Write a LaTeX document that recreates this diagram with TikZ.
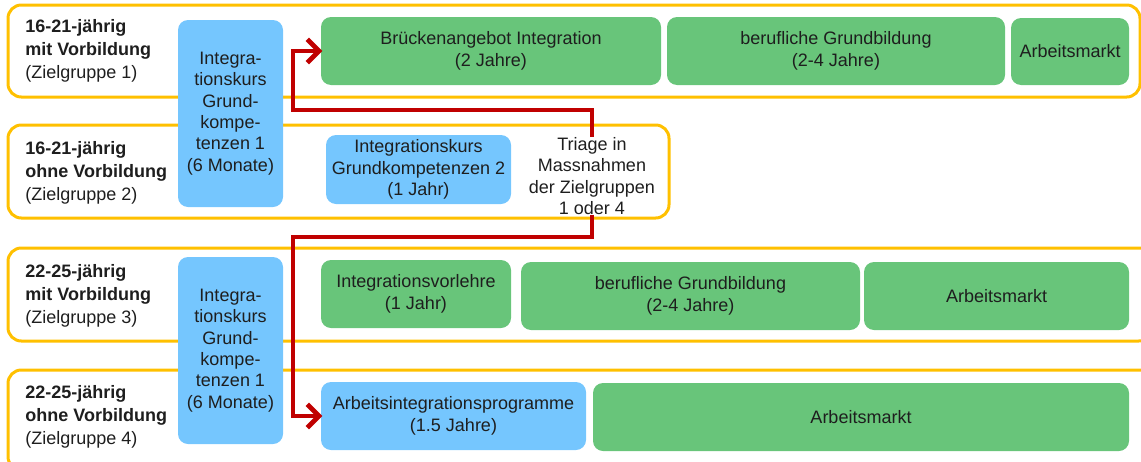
\documentclass[tikz,border=0pt]{standalone}
\usepackage{fontspec}
\setmainfont{Liberation Sans}
\usetikzlibrary{arrows.meta}

\definecolor{rahmenfarbe}{RGB}{255,192,0}
\definecolor{gruen}{RGB}{104,197,122}
\definecolor{blau}{RGB}{117,198,254}
\definecolor{rot}{RGB}{192,0,0}
\definecolor{schrift}{RGB}{30,30,30}

\newcommand\Rahmen[4] {
  \draw[rahmen] (#1, #2) rectangle (#3, #4) ;
}
\newcommand\Gruppe[5] {
  \node[gruppe] (#1) at (25, #2) {\textbf{#3}\\\textbf{#4}\\(Zielgruppe #5)} ;
}
\newcommand\Kasten[7] {
  \node[#1, minimum width={(#5-#3)*0.6pt}, minimum height={(#6-#4)*0.6pt}]
    (#2) at ({(#3+#5)/2}, {(#4+#6)/2}) {#7} ;
}

\begin{document}
\begin{tikzpicture}[x=0.6pt, y=-0.6pt,
    every node/.style={font=\fontsize{10.8}{12.8}\selectfont, text=schrift},
    rahmen/.style={draw=rahmenfarbe, line width=1.8pt, rounded corners=8pt},
    gruppe/.style={anchor=west, align=left, inner sep=0pt,
      font=\fontsize{10.8}{14}\selectfont},
    kasten/.style={rounded corners=6pt, align=center, inner sep=0pt},
    gruenbox/.style={kasten, fill=gruen},
    blaubox/.style={kasten, fill=blau},
    pfeil/.style={draw=rot, line width=2.8pt,
      -{Straight Barb[length=7pt, width=14pt, sep=-1pt]}}]
   \useasboundingbox (0, 0) rectangle (1141, 461) ;
   \clip (0, 0) rectangle (1141, 461) ;
   \Rahmen{8}{5}{1140}{97}
   \Rahmen{8}{125}{669}{218}
   \Rahmen{8}{248}{1152}{341}
   \Rahmen{8}{370}{1152}{470}
   \Gruppe{zg1}{51}{16-21-jährig}{mit Vorbildung}{1}
   \Gruppe{zg2}{173}{16-21-jährig}{ohne Vorbildung}{2}
   \Gruppe{zg3}{296}{22-25-jährig}{mit Vorbildung}{3}
   \Gruppe{zg4}{417}{22-25-jährig}{ohne Vorbildung}{4}
   \Kasten{blaubox}{ikA}{178}{20}{283}{207}{Integra-\\tionskurs\\Grund-\\kompe-\\tenzen 1\\(6 Monate)}
   \Kasten{blaubox}{ikB}{178}{257}{283}{444}{Integra-\\tionskurs\\Grund-\\kompe-\\tenzen 1\\(6 Monate)}
   \Kasten{gruenbox}{bruecke}{321}{17}{661}{85}{Brückenangebot Integration\\(2 Jahre)}
   \Kasten{gruenbox}{grundA}{667}{17}{1005}{85}{berufliche Grundbildung\\(2-4 Jahre)}
   \Kasten{gruenbox}{marktA}{1011}{18}{1129}{85}{Arbeitsmarkt}
   \Kasten{blaubox}{ikZwei}{326}{135}{511}{204}{Integrationskurs\\Grundkompetenzen 2\\(1 Jahr)}
   \node[align=center, inner sep=0pt] (triage) at (592, 176) {Triage in\\Massnahmen\\der Zielgruppen\\1 oder 4} ;
   \Kasten{gruenbox}{vorlehre}{321}{260}{511}{328}{Integrationsvorlehre\\(1 Jahr)}
   \Kasten{gruenbox}{grundB}{521}{262}{860}{330}{berufliche Grundbildung\\(2-4 Jahre)}
   \Kasten{gruenbox}{marktB}{864}{262}{1129}{330}{Arbeitsmarkt}
   \Kasten{blaubox}{aip}{321}{382}{586}{450}{Arbeitsintegrationsprogramme\\(1.5 Jahre)}
   \Kasten{gruenbox}{marktC}{593}{383}{1129}{451}{Arbeitsmarkt}
   \coordinate (knickA) at (293, 110) ;
   \coordinate (knickB) at (293, 237) ;
   \draw[pfeil] (triage.north) |- (knickA) |- (bruecke.west) ;
   \draw[pfeil] (triage.south) |- (knickB) |- (aip.west) ;
\end{tikzpicture}
\end{document}
